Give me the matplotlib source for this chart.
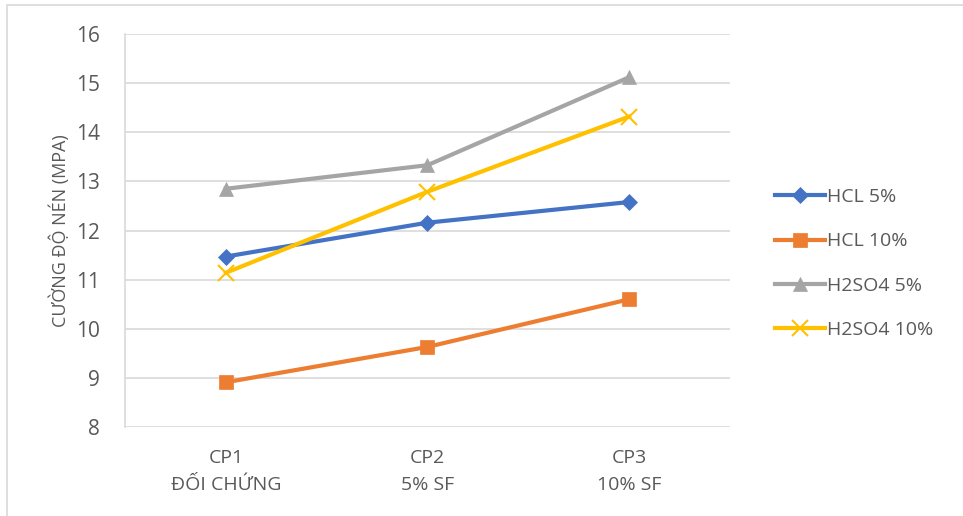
import matplotlib
matplotlib.use("Agg")
import matplotlib.pyplot as plt

categories = ["CP1\nĐỐI CHỨNG", "CP2\n5% SF", "CP3\n10% SF"]
series_names = ["HCL 5%", "HCL 10%", "H2SO4 5%", "H2SO4 10%"]
hcl5 = [11.47, 12.16, 12.58]
hcl10 = [8.91, 9.63, 10.60]
h2so4_5 = [12.85, 13.33, 15.12]
h2so4_10 = [11.14, 12.79, 14.32]
yticks = [8, 9, 10, 11, 12, 13, 14, 15, 16]

plt.rcParams['font.family'] = ['Open Sans', 'DejaVu Sans']

fig = plt.figure(figsize=(9.63, 5.16), dpi=100)
ax = fig.add_axes([0.1298, 0.1725, 0.758 - 0.1298, 0.934 - 0.1725])

colors = ["#4472C4", "#ED7D31", "#A5A5A5", "#FFC000"]
markers = ["D", "s", "^", "x"]
msizes = [8, 10, 10, 11]
data = [hcl5, hcl10, h2so4_5, h2so4_10]
x = list(range(len(categories)))
for name, vals, c, m, ms in zip(series_names, data, colors, markers, msizes):
    ax.plot(x, vals, color=c, lw=3, marker=m, markersize=ms,
            markeredgewidth=1.5 if m == "x" else 0.5, markeredgecolor=c,
            markerfacecolor=c, label=name, zorder=3)

ax.set_xlim(-0.5, 2.5)
ax.set_ylim(8, 16)
ax.set_yticks(yticks)
ax.set_xticks(x)
ax.set_xticklabels(categories, fontsize=14, color="#595959", linespacing=1.6)
ax.tick_params(axis='y', labelsize=15, colors="#595959", length=0, pad=18)
ax.tick_params(axis='x', length=0, pad=16)
ax.grid(axis='y', color="#D9D9D9", lw=1.2)
ax.set_axisbelow(True)
for s in ["top", "right", "bottom"]:
    ax.spines[s].set_visible(False)
ax.spines["left"].set_color("#D9D9D9")
ax.spines["left"].set_linewidth(1.2)
ax.set_ylabel("CƯỜNG ĐỘ NÉN (MPA)", fontsize=13, color="#595959", labelpad=4)

leg = ax.legend(loc="center left", bbox_to_anchor=(1.045, 0.416), frameon=False,
                fontsize=14, labelcolor="#595959", handlelength=2.6,
                handletextpad=0.1, labelspacing=1.35)

border = plt.Rectangle((7 / 963, -0.1), 1.2, 1 - 5 / 516 + 0.1,
                       transform=fig.transFigure, fill=False,
                       edgecolor="#D9D9D9", lw=1.2)
fig.add_artist(border)

fig.savefig("out.png", dpi=100)
